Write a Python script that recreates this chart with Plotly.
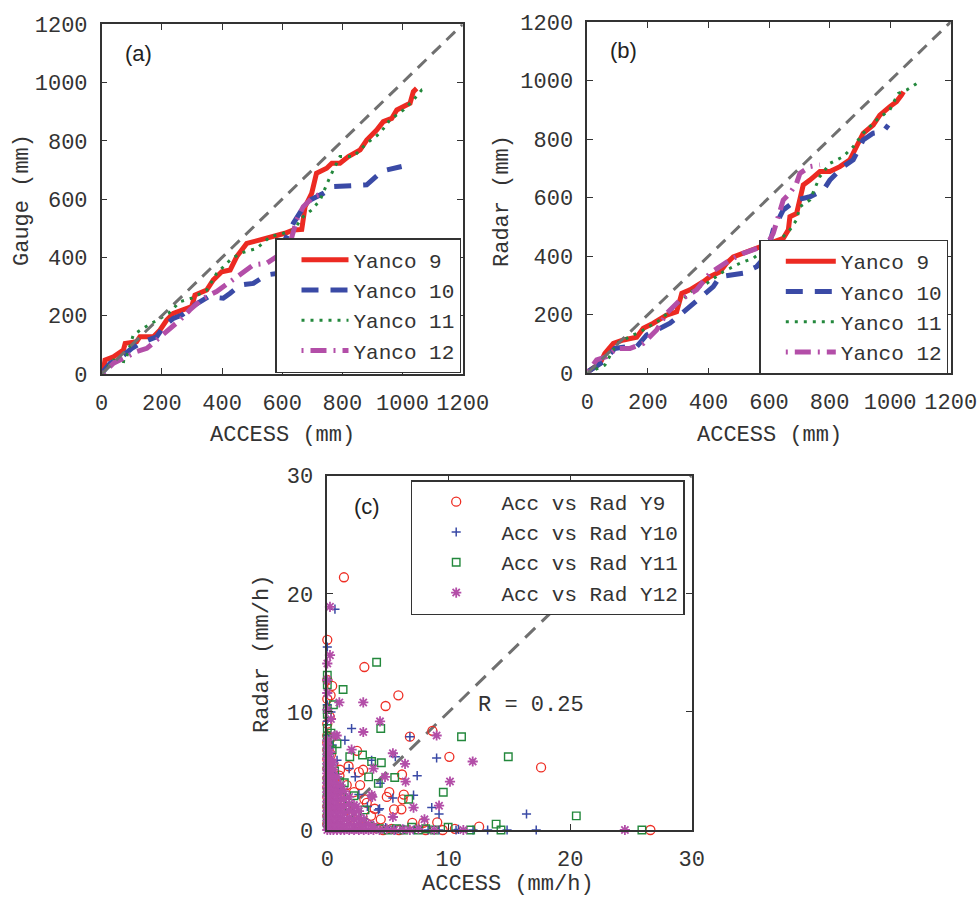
import plotly.graph_objects as go

# ---------------- data: panel (a) Gauge vs ACCESS (mm) ----------------
a9_x = [5, 11, 39, 72, 78, 116, 127, 172, 194, 216, 238, 271, 299, 310, 349, 371, 399, 427, 449, 482, 526, 571, 609, 637, 665, 676, 698, 714, 748, 765, 792, 820, 859, 881, 914, 936, 964, 981, 1003, 1025, 1036, 1047]
a9_y = [8, 48, 59, 82, 105, 111, 128, 128, 151, 185, 208, 220, 231, 271, 288, 323, 351, 357, 403, 448, 460, 471, 483, 494, 496, 574, 620, 689, 706, 723, 723, 746, 769, 803, 837, 866, 877, 906, 917, 929, 969, 980]
a10_x = [0, 28, 61, 100, 127, 183, 205, 238, 266, 310, 355, 404, 427, 460, 504, 548, 582, 609, 637, 665, 693, 737, 770, 837, 881, 925, 947, 997]
a10_y = [2, 37, 54, 88, 105, 128, 162, 191, 202, 237, 265, 260, 277, 305, 311, 340, 345, 460, 517, 563, 597, 620, 643, 649, 649, 689, 700, 712]
a11_x = [0, 39, 78, 105, 138, 183, 222, 260, 299, 349, 382, 427, 460, 515, 560, 604, 637, 670, 698, 726, 759, 792, 837, 881, 925, 958, 1003, 1036, 1064, 1080]
a11_y = [0, 48, 42, 134, 157, 185, 208, 248, 260, 288, 345, 391, 414, 431, 471, 483, 494, 540, 563, 597, 677, 746, 746, 792, 826, 872, 906, 940, 975, 977]
a12_x = [5, 39, 83, 116, 150, 183, 216, 260, 293, 338, 382, 427, 460, 504, 548, 582, 626, 648, 670, 704, 737]
a12_y = [2, 37, 59, 77, 88, 117, 151, 185, 220, 260, 283, 317, 345, 374, 380, 403, 448, 529, 574, 609, 620]

# ---------------- data: panel (b) Radar vs ACCESS (mm) ----------------
b9_x = [3, 42, 58, 86, 119, 163, 185, 218, 262, 295, 312, 339, 383, 405, 438, 460, 482, 515, 548, 581, 625, 647, 664, 669, 691, 702, 713, 735, 768, 801, 834, 867, 889, 911, 944, 966, 999, 1021, 1038, 1044]
b9_y = [6, 34, 68, 102, 114, 123, 154, 171, 199, 210, 273, 285, 313, 330, 347, 376, 398, 410, 421, 433, 450, 461, 490, 535, 546, 592, 643, 660, 689, 689, 706, 729, 774, 820, 848, 882, 911, 928, 951, 962]
b10_x = [3, 53, 91, 130, 163, 196, 229, 273, 306, 339, 372, 416, 438, 482, 515, 559, 592, 614, 647, 691, 735, 780, 801, 845, 878, 911, 944, 977, 994]
b10_y = [6, 40, 85, 91, 91, 131, 148, 171, 199, 228, 262, 296, 330, 336, 342, 364, 404, 490, 558, 592, 603, 626, 660, 706, 729, 797, 820, 825, 848]
b11_x = [0, 58, 97, 141, 185, 240, 306, 350, 394, 449, 504, 548, 592, 636, 669, 691, 702, 735, 768, 801, 845, 878, 911, 955, 999, 1027, 1055, 1088]
b11_y = [0, 28, 102, 125, 148, 182, 245, 285, 307, 347, 376, 393, 427, 455, 490, 524, 569, 592, 672, 717, 740, 774, 820, 865, 900, 956, 968, 990]
b12_x = [3, 31, 64, 97, 141, 185, 229, 262, 306, 361, 405, 438, 471, 515, 559, 592, 614, 636, 647, 669, 691, 702, 735, 768]
b12_y = [6, 46, 57, 85, 85, 102, 148, 205, 250, 285, 342, 364, 387, 410, 427, 438, 478, 546, 592, 615, 649, 683, 706, 712]

one_to_one_mm = [0, 1200]
one_to_one_mmh = [0, 30]

# ---------------- data: panel (c) hourly rates (mm/h) ----------------
c9_x = [1.37, 0, 3.05, 0, 0.27, 0, 5.85, 4.8, 8.65, 6.8, 10.05, 17.6, 2.45, 1.75, 2.6, 6.15, 1.05, 2.95, 5.1, 6.3,
        6.2, 3.05, 2.7, 4.9, 3.25, 3.9, 5.5, 6.1, 9.05, 7.0, 7.9, 12.5, 26.6, 0.4,
        0, 0, 0, 0, 0, 0, 0, 0, 0, 0, 0, 0, 0.3, 0.5, 0.6, 0.9, 1.2, 1.5, 2.0, 2.5,
        3.2, 4.0, 4.6, 5.3, 5.9, 8.1, 9.5, 10.5, 1.0, 0.3, 0.2, 1.6, 2.2, 3.6, 4.4]
c9_y = [21.4, 16.1, 13.8, 12.7, 11.4, 11.1, 11.4, 10.5, 8.4, 7.9, 6.2, 5.3, 6.7, 5.4, 4.9, 4.7, 5.1, 5.1, 3.2, 3.0,
        2.6, 2.6, 3.8, 2.8, 2.3, 1.8, 1.75, 1.75, 0.65, 0.6, 0.6, 0.28, 0, 12.2,
        9.0, 8.0, 7.4, 6.8, 6.0, 5.2, 4.4, 3.6, 2.8, 2.0, 1.2, 0.5, 6.4, 5.6, 4.2, 3.4, 2.6, 1.8, 1.1, 0.6,
        0.3, 0.15, 0, 0.1, 0, 0, 0, 0.1, 4.6, 7.8, 9.6, 3.8, 3.2, 1.2, 0.9]

c10_x = [0.63, 0, 0, 2.0, 1.45, 6.8, 9.0, 5.6, 7.4, 4.35, 7.1, 8.6, 9.2, 16.4, 17.2, 14.8, 10.6, 5.4, 4.3, 0.8,
         3.65, 2.3, 4.2, 10.8,
         0, 0, 0, 0, 0, 0, 0, 0, 0, 0, 0.4, 0.6, 1.0, 1.5, 2.2, 3.0, 3.8, 4.8, 5.6, 6.3,
         7.1, 8.3, 9.2, 12.0, 13.2, 0.3, 2.6, 3.3, 1.8]
c10_y = [18.7, 15.5, 10.6, 8.6, 7.6, 7.9, 6.1, 6.2, 4.6, 3.95, 2.95, 1.9, 1.35, 1.35, 0, 0, 0, 2.7, 1.8, 5.9,
         5.9, 4.5, 1.7, 0.05,
         9.2, 8.0, 7.0, 6.2, 5.0, 4.0, 3.0, 2.0, 1.0, 0.3, 7.2, 4.8, 3.6, 2.6, 1.6, 0.9, 0.4, 0.2, 0, 0.05,
         0, 0, 0, 0, 0, 10.0, 3.0, 2.0, 5.2]

c11_x = [4.06, 1.3, 0, 0, 0.5, 4.4, 11.05, 14.9, 2.9, 4.45, 3.65, 1.85, 5.55, 3.4, 4.2, 9.55, 6.7, 20.5, 13.9, 25.9,
         14.3, 11.8, 9.95, 6.95, 0, 1.4, 3.1, 8.1, 6.3,
         0, 0, 0, 0, 0, 0, 0, 0, 0, 0, 0.4, 0.6, 1.0, 1.2, 1.8, 2.4, 2.9, 3.5, 4.3, 5.0,
         5.7, 7.5, 8.8, 0.3, 2.2, 0.8]
c11_y = [14.2, 11.9, 13.1, 10.2, 10.6, 8.6, 7.9, 6.2, 6.35, 5.7, 5.8, 6.2, 4.45, 4.5, 3.95, 3.2, 2.6, 1.2, 0.5, 0,
         0, 0, 0.23, 0.23, 12.3, 4.0, 1.7, 0.1, 0,
         9.8, 8.6, 7.8, 6.6, 5.4, 4.2, 3.2, 2.2, 1.4, 0.6, 6.8, 5.0, 4.1, 2.8, 2.0, 1.2, 0.7, 0.3, 0.1, 0,
         0.1, 0, 0, 8.2, 2.9, 7.3]

c12_x = [0.22, 0.22, 0, 0, 0, 0.99, 2.96, 4.34, 0.77, 2.96, 9.0, 2.0, 5.4, 6.4, 11.97, 10.1, 6.45, 4.75, 3.65, 7.1,
         9.2, 8.0, 24.5, 11.2, 8.8, 0, 0.3, 3.8, 3.7, 5.4, 2.4, 0.6,
         0, 0, 0, 0, 0, 0, 0, 0, 0, 0, 0, 0, 0, 0, 0, 0, 0, 0, 0, 0,
         0.25, 0.25, 0.25, 0.25, 0.25, 0.25, 0.25, 0.25, 0.25, 0.25, 0.25, 0.25, 0.25, 0.25,
         0.5, 0.5, 0.5, 0.5, 0.5, 0.5, 0.5, 0.5, 0.5, 0.5, 0.5, 0.5,
         0.8, 0.8, 0.8, 0.8, 0.8, 0.8, 0.8, 0.8, 0.8, 0.8,
         1.1, 1.1, 1.1, 1.1, 1.1, 1.1, 1.1, 1.1,
         1.4, 1.4, 1.4, 1.4, 1.4, 1.4, 1.4,
         1.8, 1.8, 1.8, 1.8, 1.8, 1.8,
         2.2, 2.2, 2.2, 2.2, 2.2,
         2.6, 2.6, 2.6, 2.6,
         3.0, 3.0, 3.0, 3.4, 3.4, 3.8, 3.8,
         4.3, 4.9, 5.5, 6.2, 6.8, 7.5]
c12_y = [18.9, 14.8, 14.1, 11.6, 12.7, 10.8, 10.8, 9.2, 8.0, 8.3, 8.0, 6.8, 6.5, 5.6, 5.8, 4.1, 4.1, 4.5, 2.96, 1.9,
         2.06, 0.9, 0, 0, 0, 10.2, 9.4, 5.2, 2.8, 1.1, 2.0, 8.0,
         0, 0.4, 0.8, 1.2, 1.6, 2.0, 2.4, 2.8, 3.2, 3.6, 4.0, 4.4, 4.8, 5.2, 5.6, 6.0, 6.4, 6.8, 7.2, 7.6,
         0, 0.5, 1.0, 1.5, 2.0, 2.5, 3.0, 3.5, 4.0, 4.5, 5.0, 5.5, 6.0, 6.6,
         0, 0.5, 1.0, 1.5, 2.0, 2.5, 3.0, 3.5, 4.0, 4.5, 5.1, 5.7,
         0, 0.4, 0.9, 1.4, 1.9, 2.4, 2.9, 3.4, 3.9, 4.5,
         0, 0.5, 1.0, 1.5, 2.0, 2.6, 3.2, 3.8,
         0, 0.4, 0.9, 1.4, 2.0, 2.6, 3.3,
         0, 0.5, 1.0, 1.6, 2.2, 2.8,
         0, 0.4, 0.9, 1.5, 2.1,
         0, 0.5, 1.0, 1.6,
         0, 0.4, 0.9, 0, 0.5, 0, 0.3,
         0, 0.1, 0, 0.05, 0, 0.1]

mm_ticks = [0, 200, 400, 600, 800, 1000, 1200]
mmh_ticks = [0, 10, 20, 30]
series_names = ["Yanco 9", "Yanco 10", "Yanco 11", "Yanco 12"]
scatter_names = ["Acc vs Rad Y9", "Acc vs Rad Y10", "Acc vs Rad Y11", "Acc vs Rad Y12"]
R_text = "R = 0.25"

# ---------------- styling ----------------
RED, BLUE, GREEN, MAG, GREY = "#ec2a22", "#3a4aa6", "#23883c", "#b34ea8", "#707070"
MONO = "Liberation Mono, Courier New, monospace"
SANS = "Liberation Sans, Arial, sans-serif"
TXT = "#333333"
W, H = 977, 899

line_styles = [
    dict(color=RED, width=5),
    dict(color=BLUE, width=5, dash="17px,12px"),
    dict(color=GREEN, width=3, dash="3px,6px"),
    dict(color=MAG, width=5, dash="2px,7px,16px,7px"),
]

fig = go.Figure()

panels = [
    ("x", "y", "legend", [(a9_x, a9_y), (a10_x, a10_y), (a11_x, a11_y), (a12_x, a12_y)]),
    ("x2", "y2", "legend2", [(b9_x, b9_y), (b10_x, b10_y), (b11_x, b11_y), (b12_x, b12_y)]),
]
for xa, ya, lg, series in panels:
    for (xs, ys), nm, st in zip(series, series_names, line_styles):
        fig.add_trace(go.Scatter(x=xs, y=ys, mode="lines", name=nm, line=st,
                                 xaxis=xa, yaxis=ya, legend=lg))
    fig.add_trace(go.Scatter(x=one_to_one_mm, y=one_to_one_mm, mode="lines", showlegend=False,
                             line=dict(color=GREY, width=3, dash="12px,8px"), xaxis=xa, yaxis=ya,
                             hoverinfo="skip"))

fig.add_trace(go.Scatter(x=one_to_one_mmh, y=one_to_one_mmh, mode="lines", showlegend=False,
                         line=dict(color=GREY, width=3, dash="14px,9px"), xaxis="x3", yaxis="y3",
                         hoverinfo="skip"))
marker_styles = [
    dict(symbol="circle-open", size=9, color="#ee2e24", line=dict(width=1.3, color="#ee2e24")),
    dict(symbol="cross-thin-open", size=6.5, color=BLUE, line=dict(width=1.5, color=BLUE)),
    dict(symbol="square-open", size=7.5, color=GREEN, line=dict(width=1.4, color=GREEN)),
    dict(symbol="asterisk-open", size=8.5, color=MAG, line=dict(width=1.8, color=MAG)),
]
for (xs, ys), nm, mk in zip([(c9_x, c9_y), (c10_x, c10_y), (c11_x, c11_y), (c12_x, c12_y)],
                            scatter_names, marker_styles):
    fig.add_trace(go.Scatter(x=xs, y=ys, mode="markers", name="\u00a0" * 2 + nm, marker=mk,
                             xaxis="x3", yaxis="y3", legend="legend3", cliponaxis=False))

def px_dom(a, b, total):
    return [a / total, b / total]

def py_dom(top, bottom):
    return [1 - bottom / H, 1 - top / H]

axis_common = dict(showgrid=False, zeroline=False, showline=True, linecolor="#333", linewidth=1.5,
                   mirror="ticks", ticks="inside", ticklen=6, tickwidth=1.3, tickcolor="#333",
                   tickfont=dict(family=MONO, size=22, color=TXT), ticklabelstandoff=8,
                   automargin=False, ticklabeloverflow="allow")

fig.update_layout(
    width=W, height=H, margin=dict(l=0, r=0, t=0, b=0, autoexpand=False),
    paper_bgcolor="white", plot_bgcolor="white", showlegend=True,
    xaxis=dict(domain=px_dom(101.7, 462.7, W), range=[0, 1200], tickvals=mm_ticks, anchor="y", **axis_common),
    yaxis=dict(domain=py_dom(24.3, 374), range=[0, 1200], tickvals=mm_ticks, anchor="x", **axis_common),
    xaxis2=dict(domain=px_dom(587.3, 950.7, W), range=[0, 1200], tickvals=mm_ticks, anchor="y2", **axis_common),
    yaxis2=dict(domain=py_dom(22, 373.3), range=[0, 1200], tickvals=mm_ticks, anchor="x2", **axis_common),
    xaxis3=dict(domain=px_dom(327.3, 691.7, W), range=[0, 30], tickvals=mmh_ticks, anchor="y3", **axis_common),
    yaxis3=dict(domain=py_dom(475.7, 830), range=[0, 30], tickvals=mmh_ticks, anchor="x3", **axis_common),
)

leg_common = dict(xanchor="left", yanchor="top", bgcolor="white", bordercolor="#333", borderwidth=1.5,
                  font=dict(family=MONO, size=21, color=TXT), tracegroupgap=0)
fig.update_layout(
    legend=dict(x=275 / W, y=1 - 238 / H, itemwidth=47, indentation=20, **leg_common),
    legend2=dict(x=759.3 / W, y=1 - 239.5 / H, itemwidth=50, indentation=20, **leg_common),
    legend3=dict(x=410.7 / W, y=1 - 480 / H, itemwidth=30, indentation=24, **leg_common),
)

annots = [
    # axis titles
    dict(text="ACCESS (mm)", x=282 / W, y=1 - 436 / H, textangle=0),
    dict(text="Gauge (mm)", x=22 / W, y=1 - 200 / H, textangle=-90),
    dict(text="ACCESS (mm)", x=769 / W, y=1 - 435 / H, textangle=0),
    dict(text="Radar (mm)", x=502 / W, y=1 - 201 / H, textangle=-90),
    dict(text="ACCESS (mm/h)", x=508 / W, y=1 - 884 / H, textangle=0),
    dict(text="Radar (mm/h)", x=262 / W, y=1 - 654 / H, textangle=-90),
]
for a in annots:
    fig.add_annotation(xref="paper", yref="paper", xanchor="center", yanchor="middle", showarrow=False,
                       font=dict(family=MONO, size=22, color=TXT), **a)

fig.add_annotation(text="(a)", x=122, y=1100, xref="x", yref="y", showarrow=False,
                   font=dict(family=SANS, size=22, color="#222"))
fig.add_annotation(text="(b)", x=119, y=1104, xref="x2", yref="y2", showarrow=False,
                   font=dict(family=SANS, size=22, color="#222"))
fig.add_annotation(text="(c)", x=3.24, y=27.4, xref="x3", yref="y3", showarrow=False,
                   font=dict(family=SANS, size=22, color="#222"))
fig.add_annotation(text=R_text, x=12.25, y=10.5, xref="x3", yref="y3", xanchor="left", showarrow=False,
                   font=dict(family=MONO, size=22, color=TXT))

fig.write_html("out.html")
